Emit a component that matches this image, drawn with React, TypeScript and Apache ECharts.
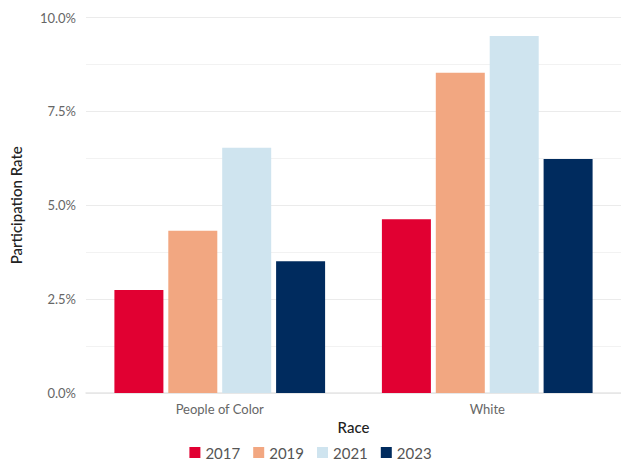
import React, { useEffect, useRef } from "react";
import * as echarts from "echarts";

const categories = ["People of Color", "White"];
const years = ["2017", "2019", "2021", "2023"];
const values2017 = [2.74, 4.63];
const values2019 = [4.32, 8.53];
const values2021 = [6.53, 9.51];
const values2023 = [3.51, 6.23];
const colors = ["#e10032", "#f2a781", "#cfe4ef", "#002b5e"];

const FONT = "Lato";

export default function App() {
  const ref = useRef<HTMLDivElement>(null);
  useEffect(() => {
    if (!ref.current) return;
    const chart = echarts.init(ref.current, null, { renderer: "svg" });
    const seriesData = [values2017, values2019, values2021, values2023];
    chart.setOption({
      animation: false,
      textStyle: { fontFamily: FONT },
      grid: { left: 85, right: 0, top: 17.5, bottom: 69 },
      legend: {
        bottom: -3,
        left: "center",
        itemWidth: 11,
        itemHeight: 11,
        itemGap: 13,
        icon: "rect",
        textStyle: { fontFamily: FONT, fontSize: 15, color: "#555" },
        data: years,
      },
      xAxis: {
        type: "category",
        data: categories,
        name: "Race",
        nameLocation: "middle",
        nameGap: 25,
        nameTextStyle: { fontFamily: FONT, fontSize: 15, color: "#222", fontWeight: 500 },
        axisLine: { show: true, lineStyle: { color: "#e6e6e6", width: 1.5 } },
        axisTick: { show: false },
        axisLabel: { fontFamily: FONT, fontSize: 13, color: "#666", margin: 9 },
      },
      yAxis: {
        type: "value",
        min: 0,
        max: 10,
        interval: 2.5,
        name: "Participation Rate",
        nameLocation: "middle",
        nameGap: 63,
        nameRotate: 90,
        nameTextStyle: { fontFamily: FONT, fontSize: 15, color: "#222", fontWeight: 500 },
        axisLabel: {
          fontFamily: FONT,
          fontSize: 13,
          color: "#666",
          margin: 10,
          formatter: (v: number) => v.toFixed(1) + "%",
        },
        axisLine: { show: false },
        axisTick: { show: false },
        splitLine: { show: true, lineStyle: { color: "#ebebeb", width: 1.2 } },
        minorTick: { show: false, splitNumber: 2 },
        minorSplitLine: { show: true, lineStyle: { color: "#f2f2f2", width: 1 } },
      },
      series: years.map((y, i) => ({
        name: y,
        type: "bar",
        data: seriesData[i],
        barWidth: 49,
        barGap: "10%",
        itemStyle: { color: colors[i] },
      })),
    });
    return () => chart.dispose();
  }, []);
  return <div ref={ref} style={{ width: 621, height: 462, position: "absolute", left: 0, top: 0 }} />;
}
